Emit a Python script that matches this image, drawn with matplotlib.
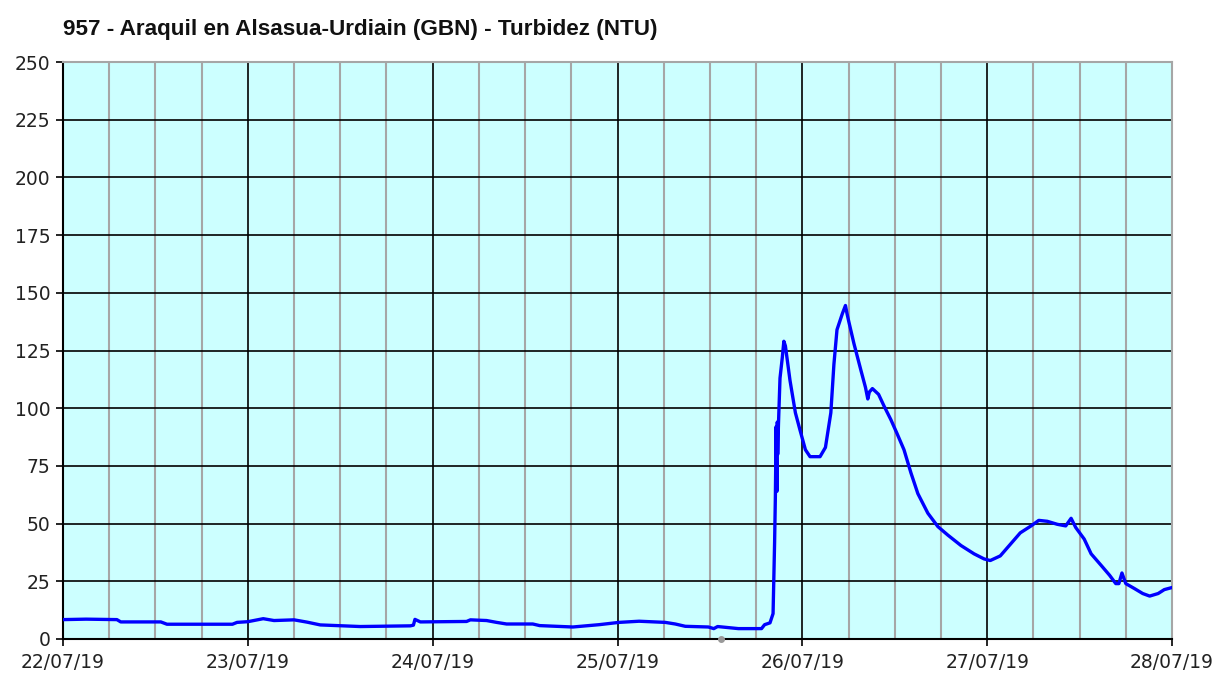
import matplotlib
matplotlib.use("Agg")
import matplotlib.pyplot as plt
import numpy as np

# hours since 22/07/19 00:00 and turbidity (NTU)
hours = [0, 3, 7, 7.5, 12.7, 13.5, 22, 22.6, 24, 26, 27.4, 30, 31.7, 33.4, 38.6,
         45.1, 45.5, 45.7, 46.4, 52.4, 52.9, 55, 56.3, 57.6, 61, 61.9, 66.2, 69.6,
         72.2, 74.8, 78.2, 79.5, 80.8, 83.8, 84.5, 85, 87.7, 90.7, 91.1, 91.8, 92.2,
         92.4, 92.5, 92.6, 92.7, 92.75, 92.8, 92.9, 93.1, 93.4, 93.6, 93.8, 94.0,
         94.4, 95.1, 95.7, 96.4, 97, 98.3, 99, 99.7, 100.1, 100.5, 101.2, 101.6,
         101.8, 102, 102.7, 103.6, 104.2, 104.5, 104.7, 105.1, 105.9, 106.6, 107.5,
         108.3, 109.2, 110.1, 111, 112.3, 113.6, 114.9, 116.6, 118.3, 119.6, 120.4,
         121.7, 123, 124.3, 125.7, 126.7, 127.8, 129.1, 130.2, 130.9, 131.5, 132.6,
         133.5, 134.8, 135.9, 136.7, 137.1, 137.5, 138, 139.1, 140.2, 141.1, 142.2,
         143, 144]
turbidity = [8.4, 8.6, 8.4, 7.4, 7.4, 6.4, 6.4, 7.2, 7.5, 8.8, 8.0, 8.3, 7.3, 6.1, 5.4,
             5.7, 6.0, 8.5, 7.4, 7.6, 8.3, 8.0, 7.2, 6.5, 6.5, 5.8, 5.2, 6.2,
             7.2, 7.7, 7.2, 6.5, 5.5, 5.2, 4.5, 5.4, 4.5, 4.5, 6.2, 7.0, 11,
             42, 62, 92, 64, 94, 80, 93, 113, 122, 129, 127, 122,
             112, 98, 90.5, 82, 79, 79, 83, 98, 119, 134, 141, 144.5,
             141, 138, 128, 116.5, 109, 104, 107, 108.5, 106, 101, 95,
             89, 82, 72, 63, 54.5, 48.7, 45, 40.5, 36.9, 34.7, 34,
             36, 41, 46, 49, 51.4, 51, 49.7, 49, 52.3, 48.3, 43.3,
             36.9, 31.9, 27.6, 24, 24, 28.6, 24, 21.9, 19.7, 18.6, 19.7,
             21.4, 22.3]

day_ticks = [0, 24, 48, 72, 96, 120, 144]
day_labels = ["22/07/19", "23/07/19", "24/07/19", "25/07/19",
              "26/07/19", "27/07/19", "28/07/19"]
y_ticks = [0, 25, 50, 75, 100, 125, 150, 175, 200, 225, 250]
gap_marker_hour = [85.4]
gap_marker_value = [0]

title = "957 - Araquil en Alsasua-Urdiain (GBN) - Turbidez (NTU)"

fig = plt.figure(figsize=(12.17, 6.73), dpi=100)
ax = fig.add_axes([63 / 1217, 1 - 639 / 673, (1172 - 63) / 1217, (639 - 62) / 673])
ax.set_facecolor("#ccffff")

# grid: gray every 6h, black at day boundaries, black every 25 NTU
for h in np.arange(6, 144, 6):
    if h % 24 == 0:
        ax.axvline(h, color="black", lw=1.2, zorder=1)
    else:
        ax.axvline(h, color="#a6a6a6", lw=1.5, zorder=1)
for v in y_ticks[1:-1]:
    ax.axhline(v, color="black", lw=1.2, zorder=1)

ax.plot(hours, turbidity, color="#0000ff", lw=2.4, zorder=3)
ax.plot(gap_marker_hour, gap_marker_value, "o", color="#999999", ms=4,
        clip_on=False, zorder=4)

ax.set_xlim(0, 144)
ax.set_ylim(0, 250)
ax.set_xticks(day_ticks)
ax.set_xticklabels(day_labels)
ax.set_yticks(y_ticks)

for s in ["left", "bottom"]:
    ax.spines[s].set_color("black")
    ax.spines[s].set_linewidth(1.5)
for s in ["top", "right"]:
    ax.spines[s].set_color("#a6a6a6")
    ax.spines[s].set_linewidth(1.5)

ax.tick_params(axis="both", direction="out", length=5, width=1.2,
               labelsize=13.5, labelcolor="#222222", color="black")
ax.tick_params(axis="y", pad=4)
ax.tick_params(axis="x", pad=5)
for lab in ax.get_xticklabels() + ax.get_yticklabels():
    lab.set_family("DejaVu Sans")

fig.text(63 / 1217, 1 - 30 / 673, title, ha="left", va="center",
         fontsize=16.2, fontweight="bold", color="#111111",
         family=["Liberation Sans", "DejaVu Sans"])

fig.savefig("out.png", dpi=100)
